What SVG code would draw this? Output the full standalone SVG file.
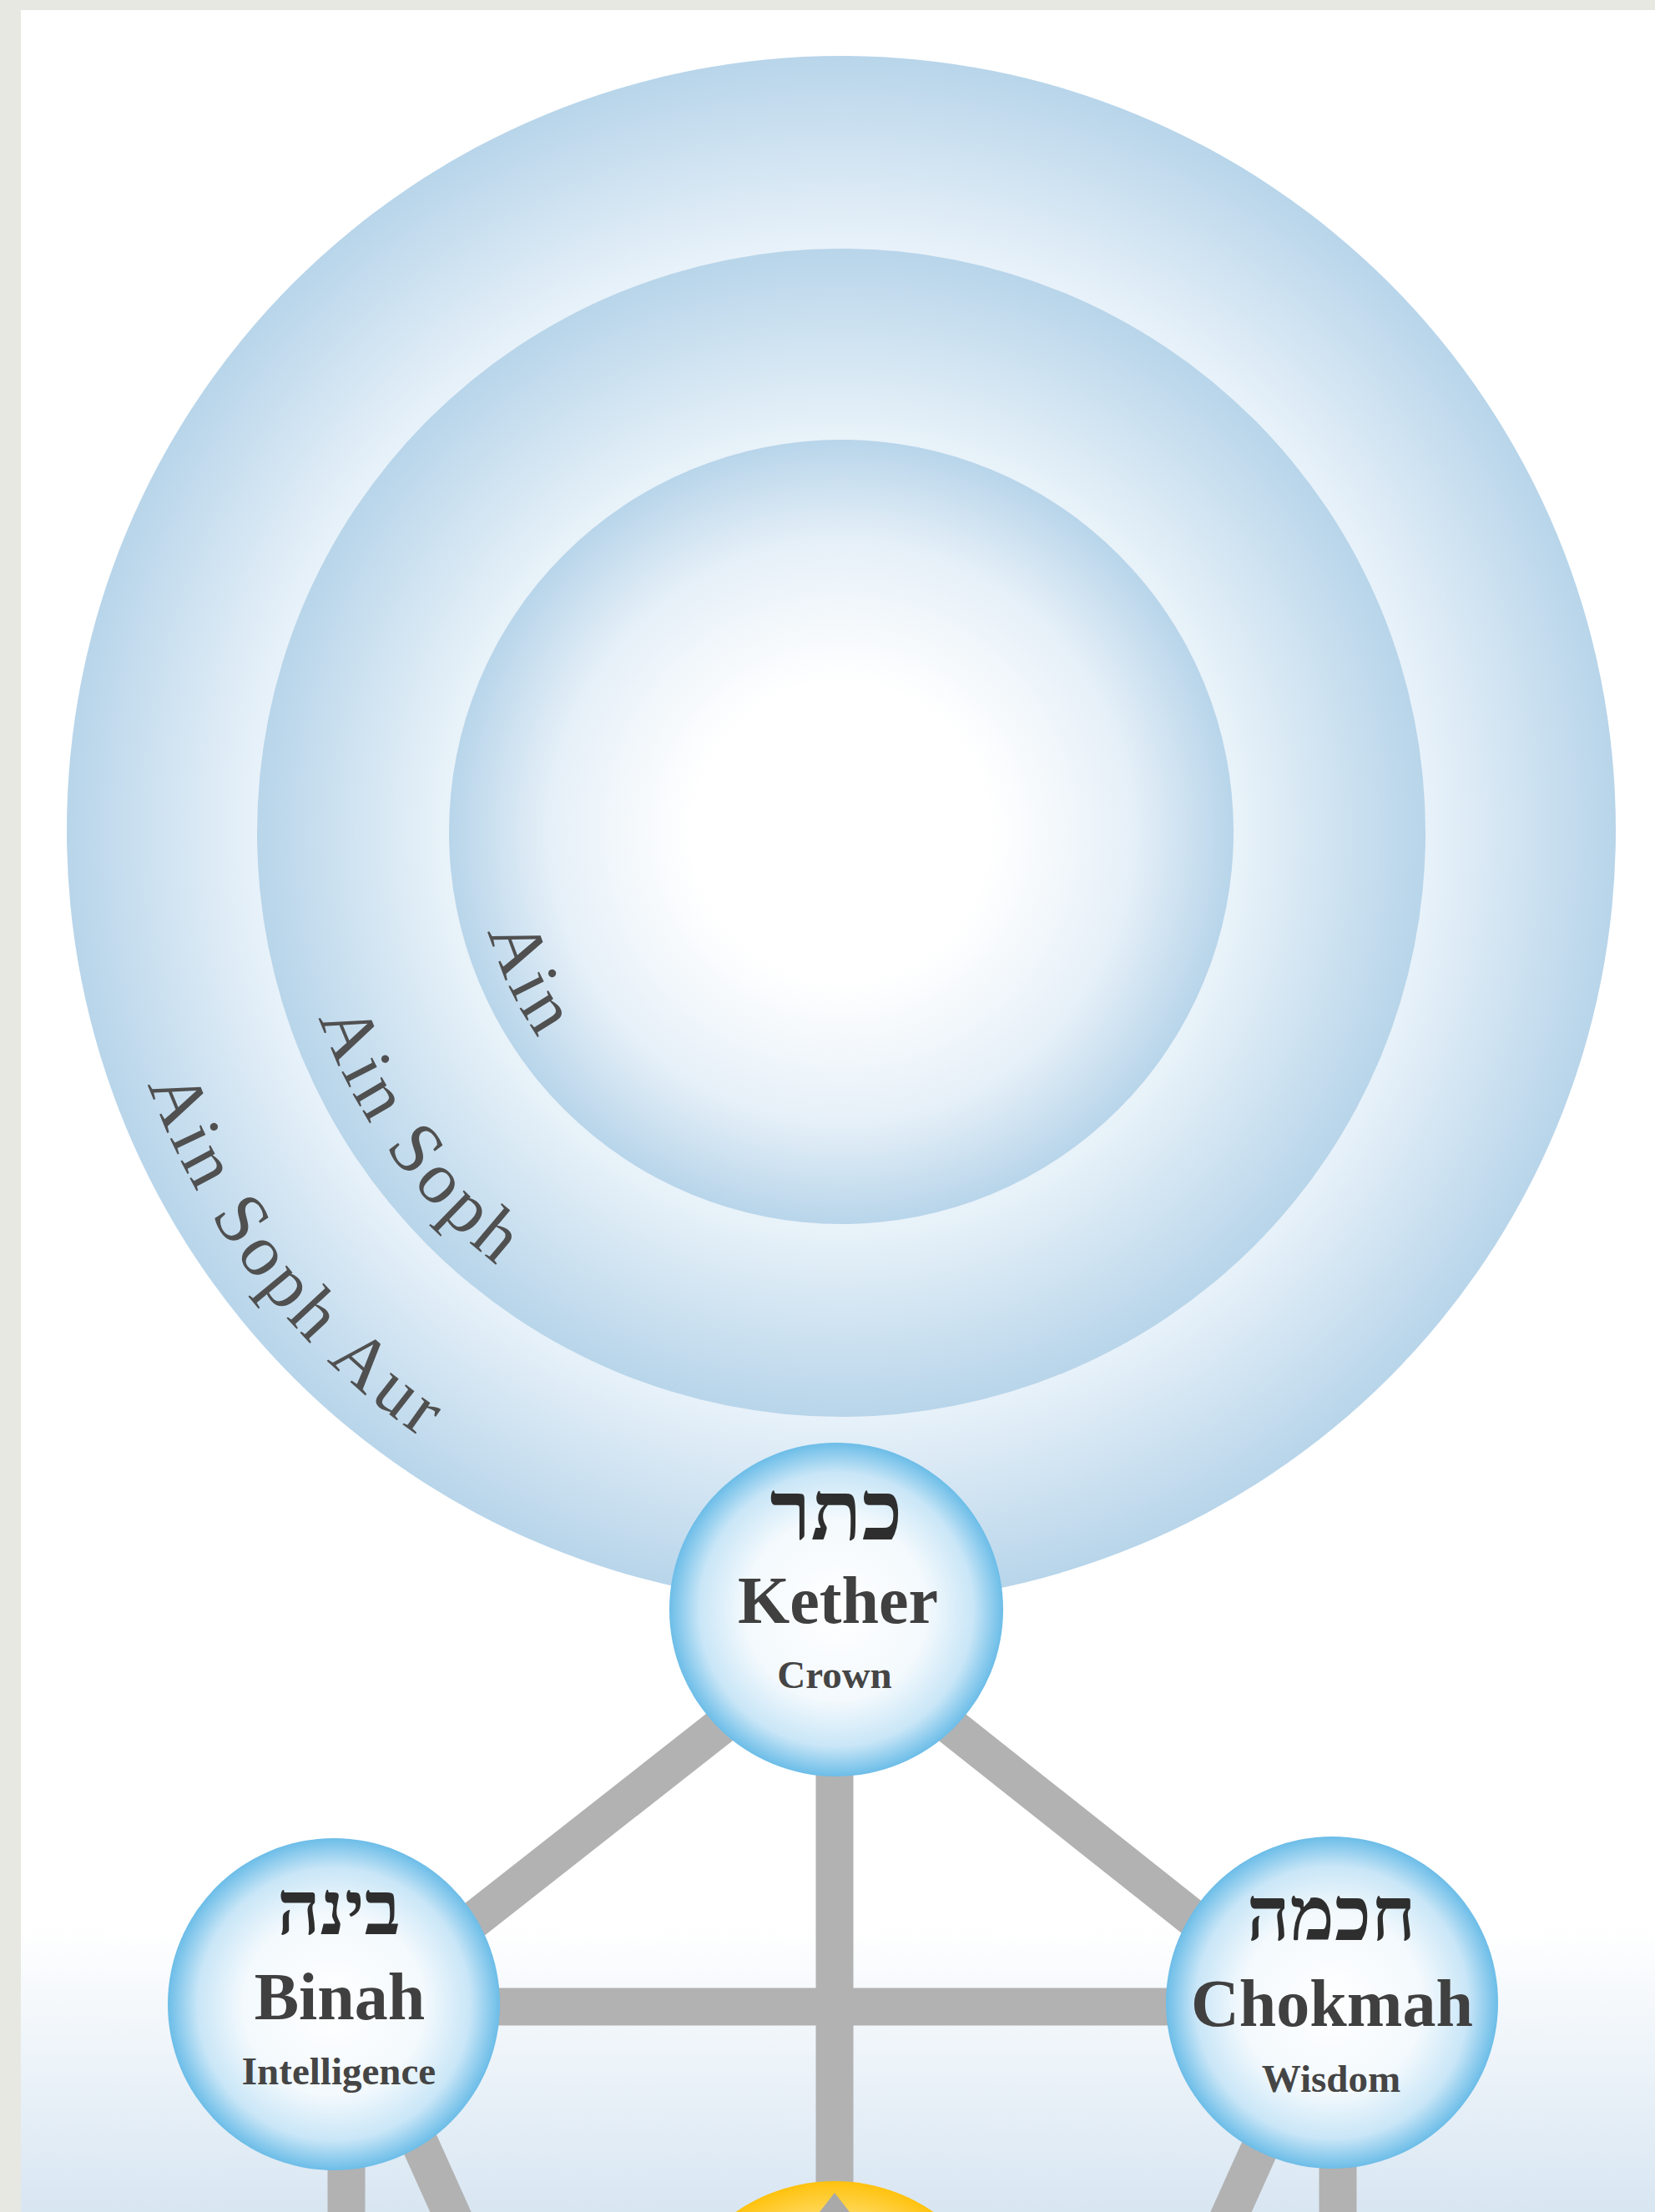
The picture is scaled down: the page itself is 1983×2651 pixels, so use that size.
<svg xmlns="http://www.w3.org/2000/svg" width="1983" height="2651" viewBox="0 0 1983 2651">
  <style>
    .arc-label { font-family: "Liberation Serif", "DejaVu Serif", serif; font-size: 88px; fill: #505050; letter-spacing: 5px; }
    .heb { font-family: "Liberation Serif", "DejaVu Sans", serif; font-size: 90px; font-weight: bold; fill: #2e2e2e; text-anchor: middle; }
    .name { font-family: "Liberation Serif", "DejaVu Serif", serif; font-size: 80px; font-weight: bold; fill: #404040; text-anchor: middle; }
    .sub { font-family: "Liberation Serif", "DejaVu Serif", serif; font-size: 47px; font-weight: bold; fill: #454545; text-anchor: middle; }
    .path { stroke: #b2b2b2; stroke-width: 45; fill: none; }
    .sephira { fill: url(#nodeGrad); }
  </style>
  <defs>
    <linearGradient id="bgGrad" x1="0" y1="0" x2="0" y2="1">
      <stop offset="0" stop-color="#ffffff"/>
      <stop offset="1" stop-color="#d8e6f2"/>
    </linearGradient>
    <radialGradient id="outerGrad" cx="0.5" cy="0.5" r="0.5">
      <stop offset="0" stop-color="#ffffff"/>
      <stop offset="0.7" stop-color="#eef5fb"/>
      <stop offset="0.76" stop-color="#e7f1f9"/>
      <stop offset="1" stop-color="#b8d5ea"/>
    </radialGradient>
    <radialGradient id="middleGrad" cx="0.5" cy="0.5" r="0.5">
      <stop offset="0" stop-color="#ffffff"/>
      <stop offset="0.6" stop-color="#eef5fb"/>
      <stop offset="0.68" stop-color="#e8f2f9"/>
      <stop offset="1" stop-color="#b8d5ea"/>
    </radialGradient>
    <radialGradient id="innerGrad" cx="0.5" cy="0.5" r="0.5">
      <stop offset="0" stop-color="#ffffff"/>
      <stop offset="0.38" stop-color="#ffffff"/>
      <stop offset="0.74" stop-color="#e6f0f8"/>
      <stop offset="1" stop-color="#b8d5ea"/>
    </radialGradient>
    <radialGradient id="nodeGrad" cx="0.5" cy="0.5" r="0.5">
      <stop offset="0" stop-color="#ffffff"/>
      <stop offset="0.55" stop-color="#f3f9fd"/>
      <stop offset="0.82" stop-color="#c9e6f7"/>
      <stop offset="1" stop-color="#6cbde8"/>
    </radialGradient>
    <radialGradient id="sunGrad" cx="0.5" cy="0.5" r="0.5">
      <stop offset="0" stop-color="#fff2b8"/>
      <stop offset="0.8" stop-color="#ffd95e"/>
      <stop offset="1" stop-color="#ffc20e"/>
    </radialGradient>
    <path id="arcAin" d="M568.3,1010.4 A440,440 0 0 0 1008,1435"/>
    <path id="arcAinSoph" d="M343.4,1018.2 A665,665 0 0 0 1008,1660"/>
    <path id="arcAinSophAur" d="M123.5,1025.9 A885,885 0 0 0 1008,1880"/>
  </defs>

  <!-- page -->
  <rect x="0" y="0" width="1983" height="2651" fill="#e8e8e2"/>
  <rect x="25" y="12" width="1958" height="2639" fill="#ffffff"/>
  <rect x="25" y="2310" width="1958" height="341" fill="url(#bgGrad)"/>

  <!-- veils of negative existence -->
  <g id="veils">
    <circle id="veil-ain-soph-aur" cx="1008" cy="995" r="928" fill="url(#outerGrad)"/>
    <circle id="veil-ain-soph" cx="1008" cy="998" r="700" fill="url(#middleGrad)"/>
    <circle id="veil-ain" cx="1008" cy="997" r="470" fill="url(#innerGrad)"/>
    <text class="arc-label"><textPath href="#arcAin" startOffset="107">Ain</textPath></text>
    <text class="arc-label"><textPath href="#arcAinSoph" startOffset="206">Ain Soph</textPath></text>
    <text class="arc-label"><textPath href="#arcAinSophAur" startOffset="280">Ain Soph Aur</textPath></text>
  </g>

  <!-- connectors -->
  <g id="connectors">
    <line class="path" x1="1000" y1="1929" x2="1000" y2="2640"/>
    <line class="path" x1="400" y1="2405" x2="1596" y2="2405"/>
    <line class="path" x1="1002" y1="1960" x2="400" y2="2433"/>
    <line class="path" x1="1002" y1="1960" x2="1596" y2="2431"/>
    <line class="path" x1="415" y1="2402" x2="415" y2="2700"/>
    <line class="path" x1="428" y1="2402" x2="562" y2="2700"/>
    <line class="path" x1="1603" y1="2400" x2="1603" y2="2700"/>
    <line class="path" x1="1587" y1="2402" x2="1453" y2="2700"/>
  </g>

  <!-- nodes -->
  <g id="node-kether">
    <circle class="sephira" cx="1002" cy="1929" r="200"/>
    <text class="heb" x="1002" y="1845" style="font-size:100px">כתר</text>
    <text class="name" x="1004" y="1945">Kether</text>
    <text class="sub" x="1000" y="2023">Crown</text>
  </g>
  <g id="node-binah">
    <circle class="sephira" cx="400" cy="2402" r="199"/>
    <text class="heb" x="406" y="2318">בינה</text>
    <text class="name" x="407" y="2420">Binah</text>
    <text class="sub" x="406" y="2498">Intelligence</text>
  </g>
  <g id="node-chokmah">
    <circle class="sephira" cx="1596" cy="2400" r="199"/>
    <text class="heb" x="1595" y="2325">חכמה</text>
    <text class="name" x="1596" y="2428">Chokmah</text>
    <text class="sub" x="1595" y="2507">Wisdom</text>
  </g>
  <g id="node-tiphareth">
    <circle cx="1000" cy="2822" r="208" fill="url(#sunGrad)"/>
    <polygon points="982,2651 1000,2628 1018,2651" fill="#a9a9a9"/>
  </g>
</svg>
